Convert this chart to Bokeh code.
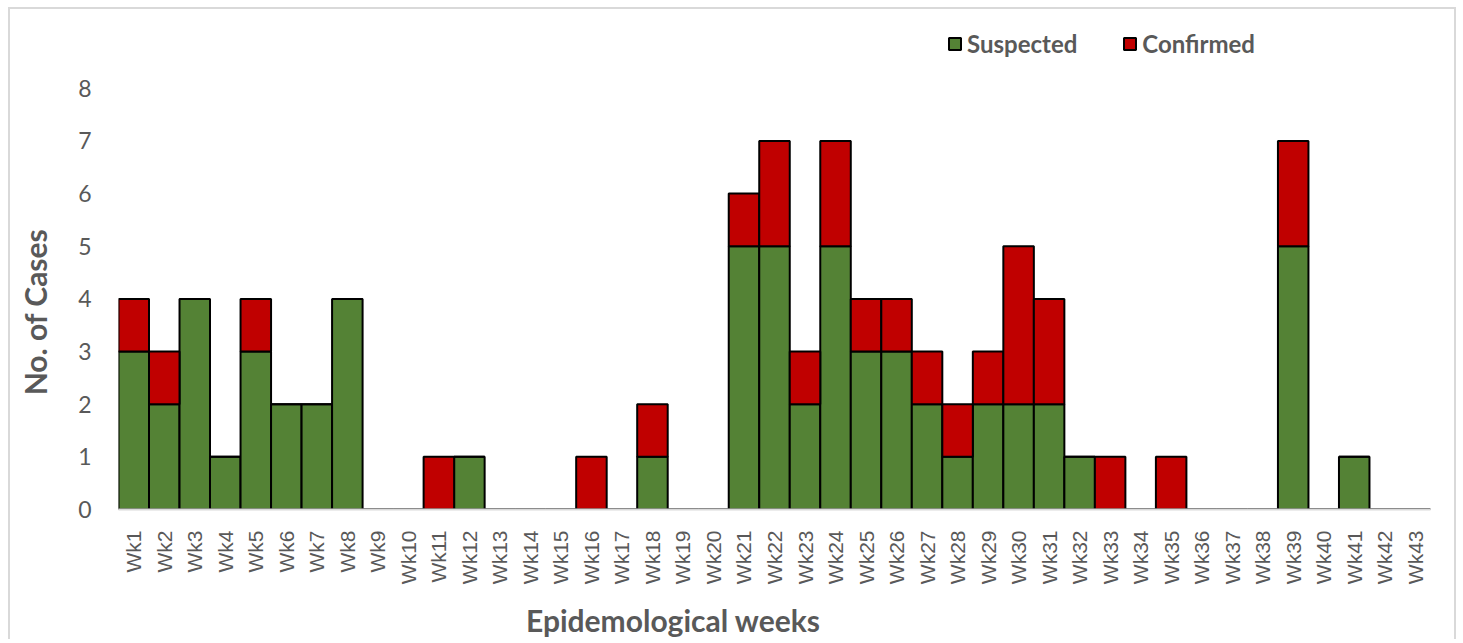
from bokeh.plotting import figure
from bokeh.models import FactorRange, Legend, LegendItem, SingleIntervalTicker
from bokeh.embed import file_html
from bokeh.resources import INLINE

weeks = [f"Wk{i}" for i in range(1, 44)]
suspected = [3, 2, 4, 1, 3, 2, 2, 4, 0, 0, 0, 1, 0, 0, 0, 0, 0, 1, 0, 0,
             5, 5, 2, 5, 3, 3, 2, 1, 2, 2, 2, 1, 0, 0, 0, 0, 0, 0, 5, 0, 1, 0, 0]
confirmed = [1, 1, 0, 0, 1, 0, 0, 0, 0, 0, 1, 0, 0, 0, 0, 1, 0, 1, 0, 0,
             1, 2, 1, 2, 1, 1, 1, 1, 1, 3, 2, 0, 1, 0, 1, 0, 0, 0, 2, 0, 0, 0, 0]
series = ["Suspected", "Confirmed"]
y_title = "No. of Cases"
x_title = "Epidemological weeks"

source = dict(weeks=weeks, Suspected=suspected, Confirmed=confirmed)

GRAY = "#595959"
BORDER = "2px solid #d9d9d9"
EM, EN, QU = "\u2003", "\u2002", "\u2005"

p = figure(x_range=FactorRange(*weeks, range_padding=0), y_range=(0, 9.497),
           width=1448, height=632, output_backend="svg", toolbar_location=None,
           min_border_left=108, min_border_right=28, min_border_top=0, min_border_bottom=131)
p.styles = {"border-top": BORDER, "border-left": BORDER, "border-right": BORDER,
            "margin-left": "8px", "margin-top": "7px"}

rs = p.vbar_stack(series, x="weeks", source=source, width=1.0,
                  color=["#548235", "#C00000"], line_color="black", line_width=2)

p.outline_line_color = None
p.xgrid.grid_line_color = None
p.ygrid.grid_line_color = None

p.yaxis.ticker = SingleIntervalTicker(interval=1)
p.yaxis.bounds = (0, 8)
p.yaxis.axis_line_color = None
p.yaxis.major_tick_line_color = None
p.yaxis.minor_tick_line_color = None
p.yaxis.major_label_text_font = "Lato"
p.yaxis.major_label_text_font_size = "23px"
p.yaxis.major_label_text_color = GRAY
p.yaxis.major_label_standoff = 21
# trailing spaces keep the label centred on the 0-8 span, as in the source chart
p.yaxis.axis_label = y_title + EM * 4 + EN
p.yaxis.axis_label_text_font = "Lato"
p.yaxis.axis_label_text_font_style = "bold"
p.yaxis.axis_label_text_font_size = "30px"
p.yaxis.axis_label_text_color = GRAY
p.yaxis.axis_label_standoff = 22

p.xaxis.axis_line_color = "#d9d9d9"
p.xaxis.axis_line_width = 2
p.xaxis.major_tick_line_color = None
p.xaxis.minor_tick_line_color = None
p.xaxis.major_label_orientation = 1.5708
p.xaxis.major_label_text_font = "Liberation Sans"
p.xaxis.major_label_text_font_size = "21px"
p.xaxis.major_label_text_color = GRAY
p.xaxis.major_label_standoff = 15
p.xaxis.axis_label = x_title + EM * 8 + EN + QU
p.xaxis.axis_label_text_font = "Lato"
p.xaxis.axis_label_text_font_style = "bold"
p.xaxis.axis_label_text_font_size = "30px"
p.xaxis.axis_label_text_color = GRAY
p.xaxis.axis_label_standoff = 15

legend = Legend(items=[LegendItem(label=series[0], renderers=[rs[0]]),
                       LegendItem(label=series[1], renderers=[rs[1]])],
                location=(829, 451), orientation="horizontal",
                label_text_font="Lato", label_text_font_style="bold",
                label_text_font_size="24px", label_text_color=GRAY,
                glyph_width=15, glyph_height=15, spacing=45, padding=0, margin=0,
                label_standoff=5, border_line_color=None, background_fill_alpha=0)
p.add_layout(legend, "center")

open("out.html", "w").write(file_html(p, INLINE))
